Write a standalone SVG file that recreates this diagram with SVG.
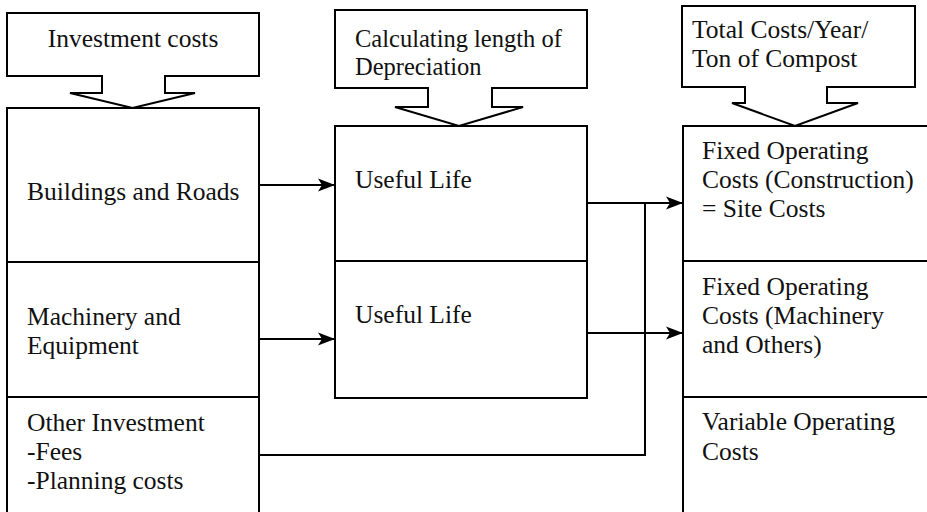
<svg xmlns="http://www.w3.org/2000/svg" width="927" height="512" viewBox="0 0 927 512">
<style>
  .box { fill: #fff; stroke: #000; stroke-width: 2; }
  .ln { fill: none; stroke: #000; stroke-width: 2; }
  text { font-family: 'Liberation Serif', 'DejaVu Serif', 'Noto Serif', serif; font-size: 25.5px; fill: #111; }
  .tight { font-size: 24.5px; }
</style>
<defs>
  <marker id="ah" markerUnits="userSpaceOnUse" markerWidth="18" markerHeight="16" refX="17" refY="8" orient="auto">
    <path d="M0,1.5 L17,8 L0,14.5 L4,8 z" fill="#000"/>
  </marker>
</defs>
<rect width="927" height="512" fill="#fff"/>

<g id="callout-investment">
  <path class="box" d="M7,13 H259 V76 H165 V93 H195 L132.5,108 L70,93 H102 V76 H7 Z"/>
  <text x="133" y="46.5" text-anchor="middle">Investment costs</text>
</g>
<g id="callout-depreciation">
  <path class="box" d="M335,10 H587 V88 H492 V107 H523 L459,126 L395,107 H428 V88 H335 Z"/>
  <text class="tight" x="355" y="47">Calculating length of</text>
  <text class="tight" x="355" y="75">Depreciation</text>
</g>
<g id="callout-total">
  <path class="box" d="M682,6 H915 V87 H827 V103 H858 L795,126 L732,103 H745 V87 H682 Z"/>
  <text x="692" y="37.5">Total Costs/Year/</text>
  <text x="692" y="66.5">Ton of Compost</text>
</g>

<g id="buildings">
  <rect class="box" x="7" y="108" width="252" height="154"/>
  <text x="27" y="200">Buildings and Roads</text>
</g>
<g id="machinery">
  <rect class="box" x="7" y="262" width="252" height="135"/>
  <text x="27" y="325">Machinery and</text>
  <text x="27" y="354">Equipment</text>
</g>
<g id="other">
  <rect class="box" x="7" y="397" width="252" height="130"/>
  <text x="27" y="431">Other Investment</text>
  <text x="27" y="460">-Fees</text>
  <text x="27" y="489">-Planning costs</text>
</g>

<g id="useful-life-1">
  <rect class="box" x="335" y="126" width="252" height="135"/>
  <text x="355" y="188">Useful Life</text>
</g>
<g id="useful-life-2">
  <rect class="box" x="335" y="261" width="252" height="137"/>
  <text x="355" y="323">Useful Life</text>
</g>

<g id="fixed-construction">
  <rect class="box" x="683" y="126" width="260" height="135"/>
  <text x="702" y="159">Fixed Operating</text>
  <text x="702" y="188">Costs (Construction)</text>
  <text x="702" y="217">= Site Costs</text>
</g>
<g id="fixed-machinery">
  <rect class="box" x="683" y="261" width="260" height="136"/>
  <text x="702" y="295">Fixed Operating</text>
  <text x="702" y="324">Costs (Machinery</text>
  <text x="702" y="353">and Others)</text>
</g>
<g id="variable">
  <rect class="box" x="683" y="397" width="260" height="130"/>
  <text x="702" y="430">Variable Operating</text>
  <text x="702" y="460">Costs</text>
</g>

<g id="connectors">
  <line class="ln" x1="259" y1="185" x2="335" y2="185" marker-end="url(#ah)"/>
  <line class="ln" x1="259" y1="339" x2="335" y2="339" marker-end="url(#ah)"/>
  <line class="ln" x1="587" y1="203" x2="683" y2="203" marker-end="url(#ah)"/>
  <line class="ln" x1="587" y1="333" x2="683" y2="333" marker-end="url(#ah)"/>
  <polyline class="ln" points="259,455 645,455 645,203"/>
</g>
</svg>
